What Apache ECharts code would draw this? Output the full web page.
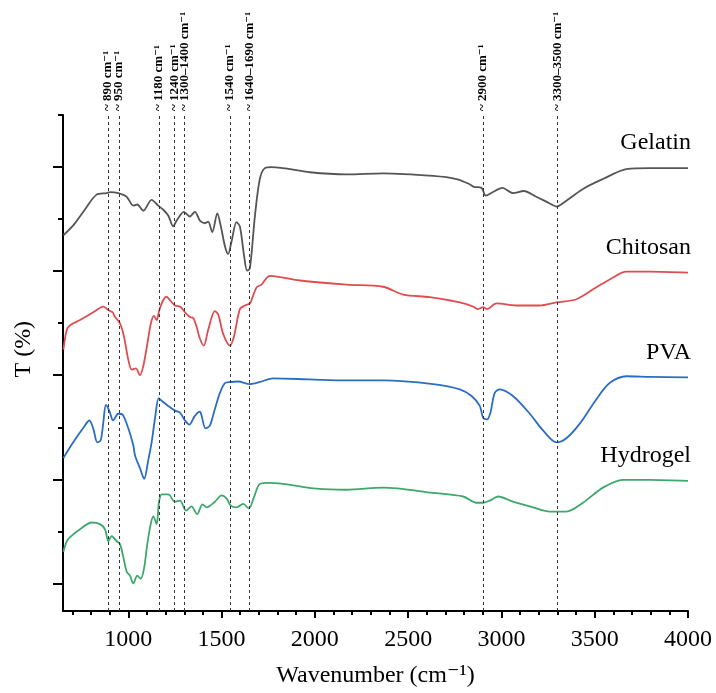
<!DOCTYPE html>
<html>
<head>
<meta charset="utf-8">
<script src="https://cdn.jsdelivr.net/npm/echarts@6/dist/echarts.min.js"></script>
<style>
    html, body { margin: 0; padding: 0; background: #fff; }
    #result { width: 716px; height: 693px; }
</style>
</head>
<body>
<div id="result"></div>
<script>
// 坐标轴刻度
var xMajorTicks = [1000, 1500, 2000, 2500, 3000, 3500, 4000];
var xMinorTicks = [];
for (var w = 700; w <= 4000; w += 100) xMinorTicks.push(w);
var yMajorTicks = [0, 20, 40, 60, 80];
var yMinorTicks = [10, 30, 50, 70, 90];

// 谱线名称
var seriesNames = ['Gelatin', 'Chitosan', 'PVA', 'Hydrogel'];

// [波数, T] 数据
var gelatin = [[652,66.9],[705,68.8],[759,71.4],[830,74.7],[884,75.0],[902,75.2],[946,75.0],[991,74.3],[1027,72.6],[1048,72.8],[1080,71.6],[1125,73.7],[1160,72.6],[1187,71.8],[1214,70.7],[1241,68.6],[1259,69.7],[1298,71.4],[1330,70.5],[1357,71.4],[1384,69.7],[1411,69.2],[1428,69.5],[1450,67.5],[1477,71.1],[1495,68.8],[1518,64.8],[1535,63.3],[1554,65.8],[1580,69.4],[1598,68.6],[1620,63.1],[1637,60.1],[1652,60.6],[1679,70.7],[1705,77.7],[1732,79.8],[1768,80.0],[1973,79.0],[2170,78.6],[2366,78.8],[2634,78.3],[2759,77.7],[2830,76.7],[2852,76.2],[2893,76.0],[2916,74.5],[2955,75.2],[3005,76.0],[3062,75.0],[3120,75.4],[3187,74.3],[3259,73.0],[3295,72.4],[3339,73.3],[3437,75.8],[3544,77.7],[3670,79.6],[3795,79.8],[4000,79.8]];
var chitosan = [[652,44.9],[670,48.7],[688,49.6],[741,50.6],[812,52.1],[866,53.2],[887,52.7],[905,52.3],[916,52.1],[929,51.2],[955,50.0],[977,47.4],[1000,43.0],[1018,41.1],[1041,41.3],[1062,40.0],[1080,41.7],[1102,46.0],[1120,49.8],[1137,51.4],[1152,50.6],[1166,52.5],[1187,54.4],[1205,55.1],[1214,54.8],[1250,53.4],[1277,53.2],[1304,52.1],[1330,51.2],[1348,51.0],[1366,49.3],[1384,47.0],[1405,45.7],[1428,48.7],[1464,52.3],[1482,51.7],[1509,47.9],[1545,45.7],[1566,47.4],[1598,52.7],[1625,53.4],[1652,53.8],[1666,55.0],[1688,56.9],[1714,57.4],[1759,59.1],[1920,58.2],[2170,57.4],[2366,57.0],[2473,55.5],[2616,55.0],[2777,54.0],[2848,53.2],[2875,52.7],[2902,53.1],[2923,52.7],[2973,53.8],[3080,53.4],[3205,53.4],[3295,54.0],[3402,54.6],[3509,56.9],[3580,58.4],[3670,59.9],[3795,59.9],[4000,59.7]];
var pva = [[652,24.1],[705,27.1],[759,29.9],[791,31.3],[812,29.8],[834,27.1],[852,27.5],[866,30.9],[880,34.3],[898,33.2],[919,31.3],[946,32.6],[970,32.4],[1000,29.8],[1027,26.5],[1036,24.6],[1062,22.2],[1085,20.1],[1107,23.7],[1125,27.1],[1145,32.2],[1163,35.6],[1179,35.1],[1214,34.1],[1250,33.2],[1277,32.8],[1304,31.3],[1327,30.5],[1357,32.2],[1384,33.0],[1393,32.2],[1414,29.8],[1437,30.3],[1464,33.5],[1491,36.6],[1518,38.5],[1548,38.7],[1589,38.8],[1652,38.3],[1705,38.7],[1777,39.4],[1973,39.2],[2170,39.0],[2366,39.0],[2634,38.3],[2777,37.3],[2840,36.0],[2884,34.1],[2902,31.8],[2923,31.5],[2941,32.8],[2964,36.6],[2991,37.3],[3062,36.0],[3152,32.6],[3223,29.4],[3295,27.1],[3348,27.9],[3420,30.7],[3509,35.4],[3580,38.5],[3670,39.8],[3795,39.7],[4000,39.6]];
var hydrogel = [[652,6.1],[670,8.1],[688,8.9],[741,10.4],[804,11.7],[848,11.4],[875,10.4],[893,8.1],[911,9.1],[938,8.1],[955,7.6],[973,5.1],[991,2.3],[1009,1.5],[1027,0],[1048,1.5],[1066,0.9],[1084,2.8],[1102,7.6],[1120,11.4],[1134,12.9],[1152,11.4],[1164,15.5],[1179,17.1],[1214,17.1],[1250,15.7],[1277,15.9],[1309,14.0],[1339,14.8],[1369,13.3],[1398,15.2],[1420,14.6],[1464,15.7],[1500,16.9],[1527,16.3],[1548,15.0],[1580,14.6],[1616,15.3],[1646,14.4],[1673,16.5],[1705,19.1],[1759,19.3],[2009,18.2],[2170,18.0],[2366,18.4],[2634,17.4],[2795,16.7],[2866,15.5],[2902,15.5],[2937,15.9],[2982,16.7],[3062,15.7],[3170,14.6],[3259,13.8],[3348,13.8],[3437,15.5],[3544,18.4],[3651,19.9],[3795,19.9],[4000,19.7]];

// 特征峰位置及标注
var peakPositions = [890, 950, 1165, 1248, 1302, 1545, 1648, 2900, 3300];
var peakLabels = ['~ 890 cm⁻¹', '~ 950 cm⁻¹', '~ 1180 cm⁻¹', '~ 1240 cm⁻¹', '~ 1300–1400 cm⁻¹',
    '~ 1540 cm⁻¹', '~ 1640–1690 cm⁻¹', '~ 2900 cm⁻¹', '~ 3300–3500 cm⁻¹'];

var allData = [gelatin, chitosan, pva, hydrogel];
var colors = ['#555555', '#df4d50', '#2c6dc4', '#3ea86c'];
var serif = "'Liberation Serif', 'DejaVu Serif', serif";

var series = seriesNames.map(function (name, i) {
    var s = {
        name: name,
        type: 'line',
        data: allData[i],
        showSymbol: false,
        smooth: 0.3,
        lineStyle: { color: colors[i], width: 1.8 },
        itemStyle: { color: colors[i] },
        z: 3
    };
    if (i === 0) {
        s.markLine = {
            silent: true,
            symbol: 'none',
            label: { show: false },
            lineStyle: { color: '#333', width: 1, type: [3, 3] },
            data: peakPositions.map(function (p) { return { xAxis: p }; })
        };
    }
    return s;
});

var option = {
    animation: false,
    backgroundColor: '#fff',
    grid: { left: 63, right: 28, top: 115, bottom: 75, containLabel: false },
    xAxis: [
        {
            type: 'value', position: 'bottom', min: 650, max: 4000,
            name: 'Wavenumber (cm⁻¹)', nameLocation: 'middle', nameGap: 53,
            nameTextStyle: { fontFamily: serif, fontSize: 24, color: '#000' },
            axisLine: { onZero: false, lineStyle: { color: '#000', width: 2 } },
            axisTick: { customValues: xMajorTicks, length: 7, lineStyle: { color: '#000', width: 2 } },
            axisLabel: {
                customValues: xMajorTicks, fontFamily: serif, fontSize: 24, color: '#000', margin: 17,
                formatter: function (v) { return String(v); }
            },
            splitLine: { show: false }
        },
        {
            type: 'value', position: 'bottom', min: 650, max: 4000,
            axisLine: { show: false, onZero: false },
            axisTick: { customValues: xMinorTicks, length: 4, lineStyle: { color: '#000', width: 2 } },
            axisLabel: { show: false },
            splitLine: { show: false }
        }
    ],
    yAxis: [
        {
            type: 'value', position: 'left', min: -5.3, max: 90,
            axisLine: { show: true, onZero: false, lineStyle: { color: '#000', width: 2 } },
            axisTick: { show: true, customValues: yMajorTicks, length: 10, lineStyle: { color: '#000', width: 2 } },
            axisLabel: { show: false },
            splitLine: { show: false }
        },
        {
            type: 'value', position: 'left', min: -5.3, max: 90,
            axisLine: { show: false, onZero: false },
            axisTick: { show: true, customValues: yMinorTicks, length: 5, lineStyle: { color: '#000', width: 2 } },
            axisLabel: { show: false },
            splitLine: { show: false }
        }
    ],
    series: series
};

var myResult = echarts.init(document.getElementById('result'));
myResult.setOption(option);

// 文字标注: 峰位、谱线名称、纵轴名
var graphics = [];
var plotTop = myResult.convertToPixel({ yAxisIndex: 0 }, 90);
peakPositions.forEach(function (p, i) {
    graphics.push({
        type: 'text',
        x: myResult.convertToPixel({ xAxisIndex: 0 }, p),
        y: plotTop - 4,
        rotation: Math.PI / 2,
        style: {
            text: peakLabels[i], fill: '#000',
            fontFamily: serif, fontSize: 13, fontWeight: 'bold',
            align: 'left', verticalAlign: 'middle'
        }
    });
});
allData.forEach(function (d, i) {
    var last = d[d.length - 1];
    var pt = myResult.convertToPixel({ xAxisIndex: 0, yAxisIndex: 0 }, last);
    graphics.push({
        type: 'text',
        x: pt[0] + 3,
        y: pt[1] - 25,
        style: {
            text: seriesNames[i], fill: '#000',
            fontFamily: serif, fontSize: 24,
            align: 'right', verticalAlign: 'middle'
        }
    });
});
graphics.push({
    type: 'text',
    x: 24,
    y: (plotTop + myResult.convertToPixel({ yAxisIndex: 0 }, 0)) / 2,
    rotation: Math.PI / 2,
    style: {
        text: 'T (%)', fill: '#000', fontFamily: serif, fontSize: 24,
        align: 'center', verticalAlign: 'middle'
    }
});
myResult.setOption({ graphic: graphics });
</script>
</body>
</html>
